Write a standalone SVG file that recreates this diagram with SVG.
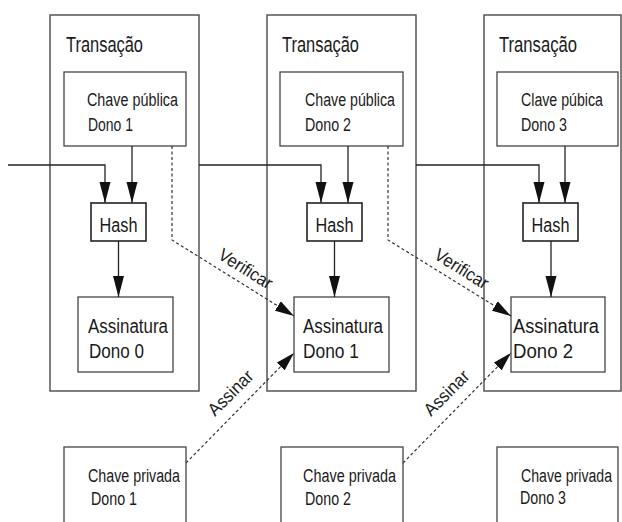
<svg xmlns="http://www.w3.org/2000/svg" width="622" height="522" viewBox="0 0 622 522">
<style>
  .frame { fill: none; stroke: #555; stroke-width: 1.5; }
  .box { fill: #fff; stroke: #444; stroke-width: 1.3; }
  .hash { fill: #fff; stroke: #222; stroke-width: 1.6; }
  .t { font-family: "Liberation Sans", Arial, sans-serif; fill: #1a1a1a; }
  .title { font-size: 22px; }
  .lbl { font-size: 18px; }
  .big { font-size: 20px; }
  .conn { fill: none; stroke: #222; stroke-width: 1.3; }
  .dash { fill: none; stroke: #333; stroke-width: 1.2; stroke-dasharray: 3 2.5; }
</style>
<defs>
  <marker id="arr" markerUnits="userSpaceOnUse" markerWidth="22" markerHeight="12" refX="21" refY="6" orient="auto">
    <path d="M0,0.5 L21,6 L0,11.5 z" fill="#111"/>
  </marker>
  <marker id="arrd" markerUnits="userSpaceOnUse" markerWidth="20" markerHeight="12" refX="19" refY="6" orient="auto">
    <path d="M0,0.5 L19,6 L0,11.5 z" fill="#111"/>
  </marker>
</defs>
<rect width="622" height="522" fill="#fff"/>

<g id="tx1">
  <rect class="frame" x="50" y="15" width="149" height="376"/>
  <text class="t title" x="66" y="52" textLength="77" lengthAdjust="spacingAndGlyphs">Transação</text>
</g>
<g id="tx2">
  <rect class="frame" x="267" y="15" width="149" height="376"/>
  <text class="t title" x="282" y="52" textLength="77" lengthAdjust="spacingAndGlyphs">Transação</text>
</g>
<g id="tx3">
  <rect class="frame" x="484" y="15" width="137" height="376"/>
  <text class="t title" x="499" y="52" textLength="78" lengthAdjust="spacingAndGlyphs">Transação</text>
</g>

<g id="pub1">
  <rect class="box" x="64" y="72" width="122" height="74"/>
  <text class="t lbl" x="87" y="106" textLength="91" lengthAdjust="spacingAndGlyphs">Chave pública</text>
  <text class="t lbl" x="88" y="131" textLength="45" lengthAdjust="spacingAndGlyphs">Dono 1</text>
</g>
<g id="pub2">
  <rect class="box" x="280" y="72" width="123" height="74"/>
  <text class="t lbl" x="305" y="106" textLength="90" lengthAdjust="spacingAndGlyphs">Chave pública</text>
  <text class="t lbl" x="305" y="131" textLength="46" lengthAdjust="spacingAndGlyphs">Dono 2</text>
</g>
<g id="pub3">
  <rect class="box" x="497" y="72" width="121" height="74"/>
  <text class="t lbl" x="521" y="106" textLength="82" lengthAdjust="spacingAndGlyphs">Clave púbica</text>
  <text class="t lbl" x="521" y="131" textLength="46" lengthAdjust="spacingAndGlyphs">Dono 3</text>
</g>

<g id="hash1">
  <rect class="hash" x="91" y="203" width="55" height="38"/>
  <text class="t big" x="118.5" y="232" text-anchor="middle" textLength="38" lengthAdjust="spacingAndGlyphs">Hash</text>
</g>
<g id="hash2">
  <rect class="hash" x="307" y="203" width="55" height="38"/>
  <text class="t big" x="334.5" y="232" text-anchor="middle" textLength="38" lengthAdjust="spacingAndGlyphs">Hash</text>
</g>
<g id="hash3">
  <rect class="hash" x="523" y="203" width="55" height="38"/>
  <text class="t big" x="550.5" y="232" text-anchor="middle" textLength="38" lengthAdjust="spacingAndGlyphs">Hash</text>
</g>

<g id="sig0">
  <rect class="box" x="78" y="297" width="95" height="75"/>
  <text class="t big" x="88" y="333" textLength="80" lengthAdjust="spacingAndGlyphs">Assinatura</text>
  <text class="t big" x="89" y="358" textLength="55" lengthAdjust="spacingAndGlyphs">Dono 0</text>
</g>
<g id="sig1">
  <rect class="box" x="294" y="297" width="95" height="75"/>
  <text class="t big" x="303" y="333" textLength="80" lengthAdjust="spacingAndGlyphs">Assinatura</text>
  <text class="t big" x="303" y="358" textLength="56" lengthAdjust="spacingAndGlyphs">Dono 1</text>
</g>
<g id="sig2">
  <rect class="box" x="511" y="297" width="94" height="75"/>
  <text class="t big" x="513" y="333" textLength="86" lengthAdjust="spacingAndGlyphs">Assinatura</text>
  <text class="t big" x="513" y="358" textLength="60" lengthAdjust="spacingAndGlyphs">Dono 2</text>
</g>

<g id="priv1">
  <rect class="box" x="64" y="447" width="122" height="80"/>
  <text class="t lbl" x="88" y="482" textLength="92" lengthAdjust="spacingAndGlyphs">Chave privada</text>
  <text class="t lbl" x="91" y="505" textLength="46" lengthAdjust="spacingAndGlyphs">Dono 1</text>
</g>
<g id="priv2">
  <rect class="box" x="281" y="447" width="122" height="80"/>
  <text class="t lbl" x="303" y="482" textLength="93" lengthAdjust="spacingAndGlyphs">Chave privada</text>
  <text class="t lbl" x="305" y="505" textLength="46" lengthAdjust="spacingAndGlyphs">Dono 2</text>
</g>
<g id="priv3">
  <rect class="box" x="497" y="447" width="121" height="80"/>
  <text class="t lbl" x="521" y="482" textLength="91" lengthAdjust="spacingAndGlyphs">Chave privada</text>
  <text class="t lbl" x="520" y="504" textLength="46" lengthAdjust="spacingAndGlyphs">Dono 3</text>
</g>

<g id="connectors">
  <path class="conn" d="M8,165 H105 V203" marker-end="url(#arr)"/>
  <path class="conn" d="M199,165 H321 V203" marker-end="url(#arr)"/>
  <path class="conn" d="M416,165 H539 V203" marker-end="url(#arr)"/>
  <path class="conn" d="M132,146 V203" marker-end="url(#arr)"/>
  <path class="conn" d="M348,146 V203" marker-end="url(#arr)"/>
  <path class="conn" d="M565,146 V203" marker-end="url(#arr)"/>
  <path class="conn" d="M118.5,241 V297" marker-end="url(#arr)"/>
  <path class="conn" d="M334.5,241 V297" marker-end="url(#arr)"/>
  <path class="conn" d="M551,241 V297" marker-end="url(#arr)"/>
  <path class="dash" d="M172,146 V240 L294,316" marker-end="url(#arrd)"/>
  <path class="dash" d="M388,146 V240 L511,316" marker-end="url(#arrd)"/>
  <path class="dash" d="M186,463 L294,353" marker-end="url(#arrd)"/>
  <path class="dash" d="M403,463 L511,353" marker-end="url(#arrd)"/>
  <text class="t lbl" transform="translate(217,258) rotate(32)" textLength="60" lengthAdjust="spacingAndGlyphs">Verificar</text>
  <text class="t lbl" transform="translate(433,258) rotate(32)" textLength="60" lengthAdjust="spacingAndGlyphs">Verificar</text>
  <text class="t lbl" transform="translate(215,417) rotate(-45)" textLength="56" lengthAdjust="spacingAndGlyphs">Assinar</text>
  <text class="t lbl" transform="translate(431,417) rotate(-45)" textLength="56" lengthAdjust="spacingAndGlyphs">Assinar</text>
</g>
</svg>
